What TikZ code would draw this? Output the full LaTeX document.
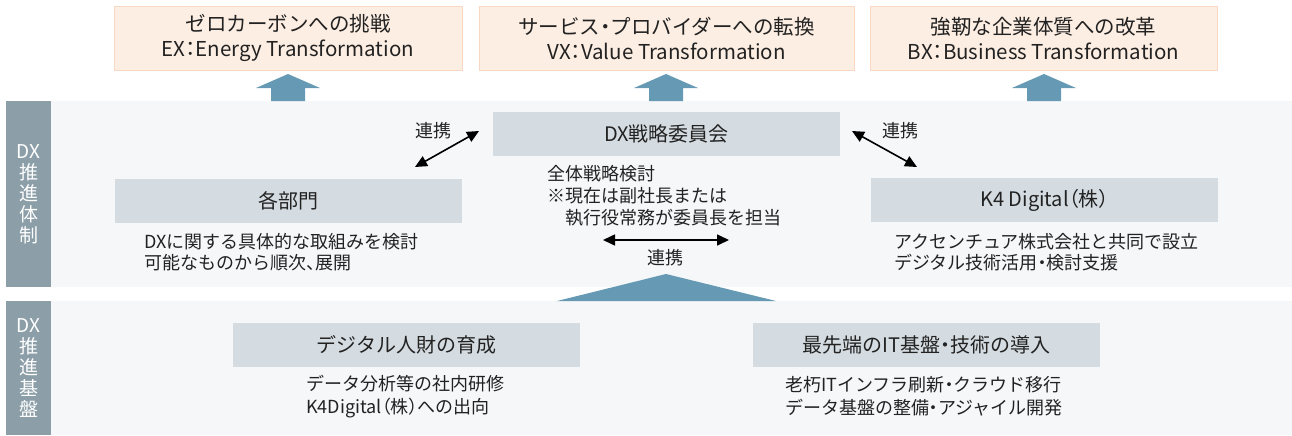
\documentclass[tikz,border=0pt]{standalone}
\usepackage{fontspec}
\setmainfont{Noto Sans CJK JP}
\usetikzlibrary{arrows.meta}
\definecolor{peach}{HTML}{FDEEE3}
\definecolor{peachline}{HTML}{F8D8C2}
\definecolor{greybox}{HTML}{D5DCE1}
\definecolor{bandbg}{HTML}{F5F7F9}
\definecolor{labelbg}{HTML}{8C9FA8}
\definecolor{arrowblue}{HTML}{6699B3}
\definecolor{ink}{HTML}{222222}
\newcommand{\pp}[1]{{\addfontfeatures{RawFeature=+palt}#1}}
\begin{document}
\begin{tikzpicture}[x=1pt,y=-1pt,
  goal/.style={rectangle,fill=peach,draw=peachline,line width=0.8pt,minimum width=348pt,minimum height=64pt,inner sep=0pt,align=center,text=ink,font=\fontsize{20.5}{25}\selectfont},
  unit/.style={rectangle,fill=greybox,minimum width=347pt,minimum height=44pt,inner sep=0pt,text=ink,font=\fontsize{20}{24}\selectfont},
  sub/.style={anchor=west,inner sep=0pt,align=left,text=ink},
  tag/.style={inner sep=0pt,text=ink,font=\fontsize{18}{21}\selectfont},
  side/.style={inner sep=0pt,align=center,text=white,font=\fontsize{19}{21}\selectfont},
  link/.style={line width=1.6pt,{Triangle[length=12pt,width=11pt]}-{Triangle[length=12pt,width=11pt]}},
  blockup/.style={fill=arrowblue}]
\useasboundingbox (0,0) rectangle (1292,436);
% bands
\fill[bandbg] (51,101) rectangle (1292,287);
\fill[bandbg] (51,301) rectangle (1292,435);
\fill[labelbg] (6,101) rectangle (51,287);
\fill[labelbg] (6,301) rectangle (51,435);
\node[side] (lab1) at (28.5,194) {DX\\推\\進\\体\\制};
\node[side] (lab2) at (28.5,368) {DX\\推\\進\\基\\盤};
% goals
\node[goal] (ex) at (288,38) {ゼロカーボンへの挑戦\\EX\pp{：}Energy Transformation};
\node[goal,minimum width=375pt] (vx) at (666.5,38) {サービス\pp{・}プロバイダーへの転換\\VX\pp{：}Value Transformation};
\node[goal,minimum width=347pt] (bx) at (1043.5,38) {強靭な企業体質への改革\\BX\pp{：}Business Transformation};
% up arrows
\foreach \c in {288,666,1044}{
  \fill[blockup] (\c-17,101) -- (\c-17,88) -- (\c-32,88) -- (\c,74) -- (\c+32,88) -- (\c+17,88) -- (\c+17,101) -- cycle;
}
% base triangle
\fill[blockup] (557,301) -- (666,274) -- (776,301) -- cycle;
% units
\node[unit] (dxc) at (666.5,134) {DX戦略委員会};
\node[unit] (dept) at (288.5,201) {各部門};
\node[unit] (k4) at (1044.5,200) {K4 Digital\pp{（}株\pp{）}};
\node[unit] (hr) at (406.5,345) {デジタル人財の育成};
\node[unit] (it) at (926.5,345) {最先端のIT基盤\pp{・}技術の導入};
% sub texts
\node[sub,font=\fontsize{18}{21}\selectfont] (deptsub) at (144,252) {DXに関する具体的な取組みを検討\\可能なものから順次\pp{、}展開};
\node[sub,font=\fontsize{18}{21}\selectfont] (k4sub) at (894,252) {アクセンチュア株式会社と共同で設立\\デジタル技術活用\pp{・}検討支援};
\node[sub,font=\fontsize{18}{22}\selectfont] (dxcsub) at (547,196) {全体戦略検討\\※現在は副社長または\\\hspace*{1em}執行役常務が委員長を担当};
\node[sub,font=\fontsize{18}{23}\selectfont] (hrsub) at (306,396.5) {データ分析等の社内研修\\K4Digital\pp{（}株\pp{）}への出向};
\node[sub,font=\fontsize{18}{23}\selectfont] (itsub) at (785,396.5) {老朽ITインフラ刷新\pp{・}クラウド移行\\データ基盤の整備\pp{・}アジャイル開発};
% link arrows
\coordinate (la) at (415,167);
\coordinate (lb) at (479,131);
\coordinate (ra) at (852,131);
\coordinate (rb) at (917,167);
\coordinate (ma) at (603,240);
\coordinate (mb) at (729,240);
\draw[link] (la) -- (lb);
\draw[link] (ra) -- (rb);
\draw[link] (ma) -- (mb);
\node[tag] (t1) at (433,131) {連携};
\node[tag] (t2) at (900,131) {連携};
\node[tag] (t3) at (665,258) {連携};
\end{tikzpicture}
\end{document}
